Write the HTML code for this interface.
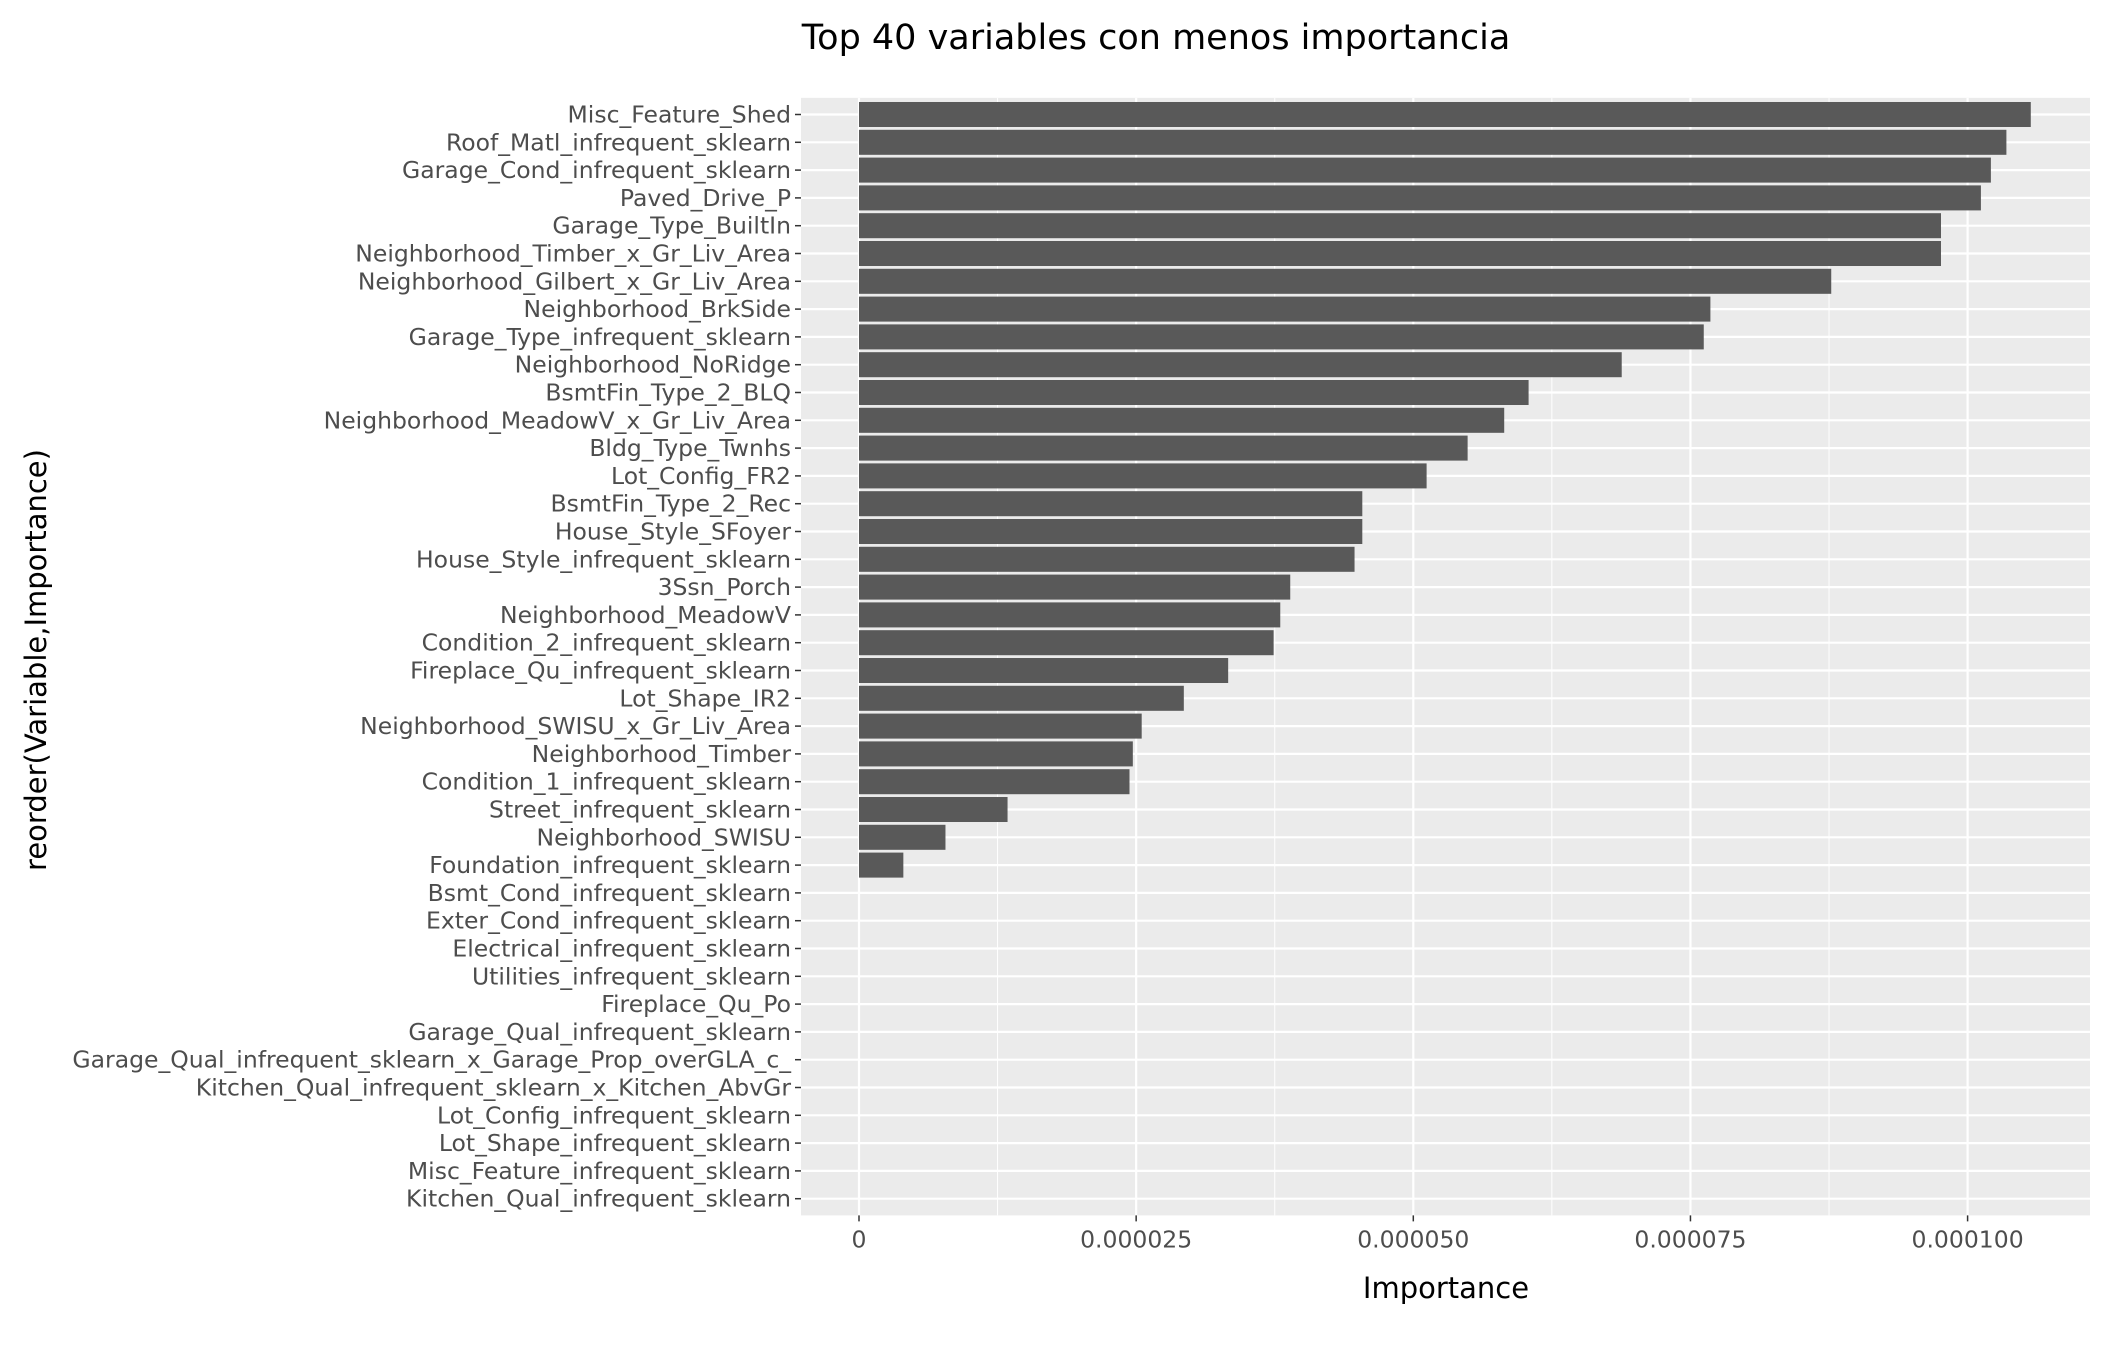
<!DOCTYPE html>
<html><head><meta charset="utf-8"><style>
html,body{margin:0;padding:0;background:#fff}
svg text{font-family:"DejaVu Sans","Liberation Sans",sans-serif}
</style></head><body>
<svg id="chart" width="2112" height="1344" xmlns="http://www.w3.org/2000/svg">
<text x="1156" y="49" text-anchor="middle" font-size="35" fill="#000">Top 40 variables con menos importancia</text>
<g id="g"></g>
<text x="1446" y="1298" text-anchor="middle" font-size="29" fill="#000">Importance</text>
<text transform="translate(46,660) rotate(-90)" text-anchor="middle" font-size="29" fill="#000">reorder(Variable,Importance)</text>
</svg>
<script>
const categories=["Misc_Feature_Shed","Roof_Matl_infrequent_sklearn","Garage_Cond_infrequent_sklearn","Paved_Drive_P","Garage_Type_BuiltIn","Neighborhood_Timber_x_Gr_Liv_Area","Neighborhood_Gilbert_x_Gr_Liv_Area","Neighborhood_BrkSide","Garage_Type_infrequent_sklearn","Neighborhood_NoRidge","BsmtFin_Type_2_BLQ","Neighborhood_MeadowV_x_Gr_Liv_Area","Bldg_Type_Twnhs","Lot_Config_FR2","BsmtFin_Type_2_Rec","House_Style_SFoyer","House_Style_infrequent_sklearn","3Ssn_Porch","Neighborhood_MeadowV","Condition_2_infrequent_sklearn","Fireplace_Qu_infrequent_sklearn","Lot_Shape_IR2","Neighborhood_SWISU_x_Gr_Liv_Area","Neighborhood_Timber","Condition_1_infrequent_sklearn","Street_infrequent_sklearn","Neighborhood_SWISU","Foundation_infrequent_sklearn","Bsmt_Cond_infrequent_sklearn","Exter_Cond_infrequent_sklearn","Electrical_infrequent_sklearn","Utilities_infrequent_sklearn","Fireplace_Qu_Po","Garage_Qual_infrequent_sklearn","Garage_Qual_infrequent_sklearn_x_Garage_Prop_overGLA_c_","Kitchen_Qual_infrequent_sklearn_x_Kitchen_AbvGr","Lot_Config_infrequent_sklearn","Lot_Shape_infrequent_sklearn","Misc_Feature_infrequent_sklearn","Kitchen_Qual_infrequent_sklearn"];
const values=[1.057e-4,1.035e-4,1.021e-4,1.012e-4,0.976e-4,0.976e-4,0.877e-4,0.768e-4,0.762e-4,0.688e-4,0.604e-4,0.582e-4,0.549e-4,0.512e-4,0.454e-4,0.454e-4,0.447e-4,0.389e-4,0.380e-4,0.374e-4,0.333e-4,0.293e-4,0.255e-4,0.247e-4,0.244e-4,0.134e-4,0.078e-4,0.040e-4,0,0,0,0,0,0,0,0,0,0,0,0];
const xTicks=[0,0.000025,0.00005,0.000075,0.0001];
const xTickLabels=["0","0.000025","0.000050","0.000075","0.000100"];
const NS="http://www.w3.org/2000/svg";
const g=document.getElementById('g');
const L=801,R=2090,x0=859,k=1108.6e4;
const step=27.8,c0=114.5,T=c0-0.6*step,B=c0+39*step+0.6*step;
const x=v=>x0+v*k;
const y=i=>c0+i*step;
function mk(t,a){const e=document.createElementNS(NS,t);for(const n in a)e.setAttribute(n,a[n]);g.appendChild(e);return e;}
let e=mk('rect',{x:L,y:T,width:R-L,height:B-T,fill:'#ebebeb'});


for(let i=0;i<xTicks.length-1;i++){const m=(xTicks[i]+xTicks[i+1])/2;
e=mk('line',{x1:x(m),x2:x(m),y1:T,y2:B,stroke:'#fff','stroke-width':1});

}
xTicks.forEach((t,i)=>{
e=mk('line',{x1:x(t),x2:x(t),y1:T,y2:B,stroke:'#fff','stroke-width':2.2});


e=mk('line',{x1:x(t),x2:x(t),y1:B,y2:B+6,stroke:'#333','stroke-width':1.5});


e=mk('text',{x:x(t),y:B+32,'text-anchor':'middle','font-size':23.5,fill:'#4d4d4d'});e.textContent=xTickLabels[i];

});
categories.forEach((c,i)=>{
e=mk('line',{x1:L,x2:R,y1:y(i),y2:y(i),stroke:'#fff','stroke-width':2.2});

});
categories.forEach((c,i)=>{
const v=values[i];
if(v>0){e=mk('rect',{x:x(0),y:y(i)-0.45*step,width:x(v)-x(0),height:0.9*step,fill:'#595959'});

}
e=mk('line',{x1:L-6,x2:L,y1:y(i),y2:y(i),stroke:'#333','stroke-width':1.5});


e=mk('text',{x:L-10,y:y(i)+8,'text-anchor':'end','font-size':23.5,fill:'#4d4d4d'});e.textContent=c;

});
</script>
</body></html>
